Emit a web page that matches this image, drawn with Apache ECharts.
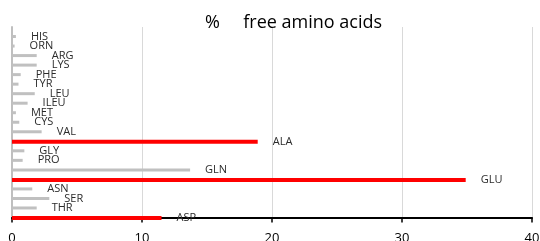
<!DOCTYPE html>
<html>
<head>
<meta charset="utf-8">
<script src="https://cdn.jsdelivr.net/npm/echarts@6/dist/echarts.min.js"></script>
<style>
  html, body { margin: 0; padding: 0; background: #fff; }
  #chart { width: 540px; height: 241px; }
</style>
</head>
<body>
<div id="chart"></div>
<script>
// amino acids, bottom to top
const acids = ['ASP', 'THR', 'SER', 'ASN', 'GLU', 'GLN', 'PRO', 'GLY', 'ALA', 'VAL',
  'CYS', 'MET', 'ILEU', 'LEU', 'TYR', 'PHE', 'LYS', 'ARG', 'ORN', 'HIS']
const percent = [11.5, 1.9, 2.87, 1.56, 34.9, 13.7, 0.82, 0.95, 18.9, 2.28,
  0.56, 0.3, 1.2, 1.75, 0.5, 0.67, 1.9, 1.9, 0.2, 0.3]
const highlighted = ['ASP', 'GLU', 'ALA']
const xTicks = [0, 10, 20, 30, 40]

const chart = echarts.init(document.getElementById('chart'))

// empty slot on top so the grid runs a step above HIS
const yCats = acids.concat([''])
const grayData = acids.map((a, i) => highlighted.includes(a) ? null : percent[i])
const redData = acids.map((a, i) => highlighted.includes(a) ? percent[i] : null)

const labelStyle = {
  show: true,
  position: 'right',
  distance: 15,
  formatter: '{b}',
  fontFamily: 'Open Sans',
  fontSize: 11,
  color: '#2b2b2b'
}

const option = {
  animation: false,
  title: {
    text: '%     free amino acids',
    left: 205,
    top: 14,
    padding: 0,
    textStyle: {
      fontFamily: 'Open Sans',
      fontSize: 18,
      fontWeight: 'normal',
      color: '#000'
    }
  },
  grid: {
    left: 12,
    right: 8,
    top: 27,
    bottom: 23.5,
    containLabel: false,
    outerBoundsMode: 'none'
  },
  xAxis: {
    type: 'value',
    min: xTicks[0],
    max: xTicks[xTicks.length - 1],
    interval: 10,
    axisLine: { show: true, lineStyle: { color: '#000', width: 2 } },
    axisTick: { show: true, length: 5, lineStyle: { color: '#000', width: 1.5 } },
    axisLabel: {
      margin: 14,
      fontFamily: 'Open Sans',
      fontSize: 13,
      color: '#000'
    },
    splitLine: { show: true, lineStyle: { color: '#d9d9d9', width: 1 } }
  },
  yAxis: {
    type: 'category',
    data: yCats,
    boundaryGap: false,
    axisLine: { show: true, lineStyle: { color: '#bfbfbf', width: 2 } },
    axisTick: { show: false },
    axisLabel: { show: false },
    splitLine: { show: false }
  },
  series: [
    {
      type: 'bar',
      data: redData,
      barWidth: 4,
      barGap: '-100%',
      itemStyle: { color: '#ff0000' },
      label: labelStyle
    },
    {
      type: 'bar',
      data: grayData,
      barWidth: 3,
      itemStyle: { color: '#c0c0c0' },
      label: labelStyle
    }
  ]
}
chart.setOption(option)
</script>
</body>
</html>
